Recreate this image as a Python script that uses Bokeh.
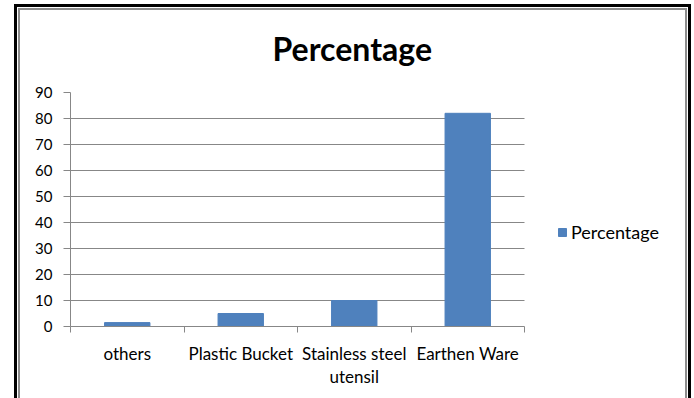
from bokeh.plotting import figure
from bokeh.models import Range1d, FixedTicker, Legend, LegendItem, ColumnDataSource
from bokeh.embed import file_html
from bokeh.resources import INLINE

# ---- data ----
categories = ["others", "Plastic Bucket", "Stainless steel\nutensil", "Earthen Ware"]
percentages = [1.5, 5, 10, 82]
y_ticks = [0, 10, 20, 30, 40, 50, 60, 70, 80, 90]
series_name = "Percentage"
chart_title = "Percentage"

BAR = "#4F81BD"
GRID = "#878787"
FONT = "Lato"

n = len(categories)
x_pos = [i + 0.5 for i in range(n)]
boundaries = list(range(n + 1))
source = ColumnDataSource(dict(x=x_pos, top=percentages, cat=categories))

# the frame runs on to the right so the legend can sit inside it;
# axis and grid are bounded to the category span
x_end = n + 160 / 113.5

p = figure(width=694, height=398,
           x_range=Range1d(0, x_end), y_range=Range1d(y_ticks[0], y_ticks[-1]),
           output_backend="svg", toolbar_location=None,
           min_border_left=70, min_border_right=10, min_border_top=92, min_border_bottom=72)
p.outline_line_color = None
p.background_fill_color = None
p.border_fill_color = None

# page frame (double border like the original screenshot)
bg = ", ".join([
    "linear-gradient(#000,#000) 14px 4px / 3px 394px no-repeat",
    "linear-gradient(#000,#000) 14px 4px / 677px 3px no-repeat",
    "linear-gradient(#000,#000) 688px 4px / 3px 394px no-repeat",
    "linear-gradient(#8c8c8c,#8c8c8c) 18px 8px / 2px 390px no-repeat",
    "linear-gradient(#8c8c8c,#8c8c8c) 18px 8px / 669px 2px no-repeat",
    "linear-gradient(#8c8c8c,#8c8c8c) 685px 8px / 2px 390px no-repeat",
    "#ffffff",
])
p.styles = {"background": bg}

bars = p.vbar(x="x", top="top", width=0.4, source=source,
              fill_color=BAR, line_color=BAR, line_width=1)

# title
p.title.text = chart_title
p.title.align = "left"
p.title.offset = 202
p.title.standoff = 49
p.title.text_font = FONT
p.title.text_font_style = "bold"
p.title.text_font_size = "32px"
p.title.text_color = "black"

# x axis
xa = p.xaxis[0]
xa.bounds = (0, n)
xa.ticker = FixedTicker(ticks=x_pos, minor_ticks=boundaries)
xa.major_label_overrides = {x: c for x, c in zip(x_pos, categories)}
xa.major_tick_out = 0
xa.major_tick_in = 0
xa.minor_tick_out = 6
xa.minor_tick_in = 0
xa.minor_tick_line_color = GRID
xa.axis_line_color = GRID
xa.major_label_text_font = FONT
xa.major_label_text_font_size = "17px"
xa.major_label_text_color = "black"
xa.major_label_standoff = 10
xa.major_label_text_line_height = 1.1

# y axis
ya = p.yaxis[0]
ya.ticker = FixedTicker(ticks=y_ticks, minor_ticks=[])
ya.major_tick_out = 7
ya.major_tick_in = 0
ya.major_tick_line_color = GRID
ya.axis_line_color = GRID
ya.major_label_text_font = FONT
ya.major_label_text_font_size = "15px"
ya.major_label_text_color = "black"
ya.major_label_standoff = 11

p.xgrid.visible = False
p.ygrid.ticker = FixedTicker(ticks=y_ticks)
p.ygrid.bounds = (y_ticks[0], y_ticks[-1])
p.ygrid.cross_bounds = (0, n)
p.ygrid.grid_line_color = GRID
p.ygrid.grid_line_width = 1

# legend
legend = Legend(items=[LegendItem(label=series_name, renderers=[bars])],
                location=(487, 83), orientation="vertical",
                glyph_width=10, glyph_height=10, label_height=10, label_standoff=4,
                padding=0, margin=0, spacing=0,
                border_line_color=None, background_fill_alpha=0,
                label_text_font=FONT, label_text_font_size="18px", label_text_color="black",
                label_text_baseline="alphabetic")
p.add_layout(legend)

open("out.html", "w").write(file_html(p, INLINE))
